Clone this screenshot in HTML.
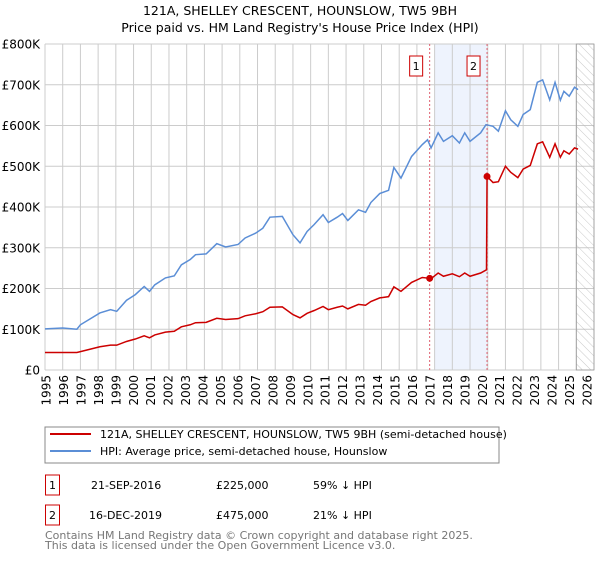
<!DOCTYPE html>
<html><head><meta charset="utf-8"><style>
body{margin:0;background:#fff;font-family:"Liberation Sans","DejaVu Sans",sans-serif;}
svg text{font-family:"DejaVu Sans","Liberation Sans",sans-serif;}
</style></head><body>
<svg id="c" width="600" height="560" xmlns="http://www.w3.org/2000/svg">
<defs><pattern id="hatch" width="6" height="6" patternUnits="userSpaceOnUse" patternTransform="rotate(-45)"><line x1="0" y1="0" x2="0" y2="6" stroke="#bbb" stroke-width="0.8"/></pattern></defs>
<text x="300" y="15" text-anchor="middle" font-size="12.5">121A, SHELLEY CRESCENT, HOUNSLOW, TW5 9BH</text>
<text x="300" y="32" text-anchor="middle" font-size="12.5">Price paid vs. HM Land Registry's House Price Index (HPI)</text>
<g id="grid"></g><g id="marks"></g>
<rect x="45" y="427" width="454" height="36" fill="#fff" stroke="#888"/>
<line x1="50" y1="434" x2="91" y2="434" stroke="#cc0000" stroke-width="2"/>
<text x="100" y="438" font-size="11">121A, SHELLEY CRESCENT, HOUNSLOW, TW5 9BH (semi-detached house)</text>
<line x1="50" y1="451" x2="91" y2="451" stroke="#5b8ed6" stroke-width="2"/>
<text x="100" y="455" font-size="11">HPI: Average price, semi-detached house, Hounslow</text>
<rect x="45.5" y="475" width="14" height="20" fill="#fff" stroke="#cc0000"/>
<text x="52.5" y="489" text-anchor="middle" font-size="11">1</text>
<text x="91" y="489" font-size="11">21-SEP-2016</text>
<text x="216" y="489" font-size="11">£225,000</text>
<text x="313" y="489" font-size="11">59% ↓ HPI</text>
<rect x="45.5" y="505" width="14" height="20" fill="#fff" stroke="#cc0000"/>
<text x="52.5" y="519" text-anchor="middle" font-size="11">2</text>
<text x="89" y="519" font-size="11">16-DEC-2019</text>
<text x="216" y="519" font-size="11">£475,000</text>
<text x="313" y="519" font-size="11">21% ↓ HPI</text>
<text x="45" y="539" font-size="11" fill="#777">Contains HM Land Registry data © Crown copyright and database right 2025.</text>
<text x="45" y="549" font-size="11" fill="#777">This data is licensed under the Open Government Licence v3.0.</text>
</svg>
<script>
const yTicks=[0,100,200,300,400,500,600,700,800];
const yTickLabels=["£0","£100K","£200K","£300K","£400K","£500K","£600K","£700K","£800K"];
const xYears=[1995,1996,1997,1998,1999,2000,2001,2002,2003,2004,2005,2006,2007,2008,2009,2010,2011,2012,2013,2014,2015,2016,2017,2018,2019,2020,2021,2022,2023,2024,2025,2026];
const hpiYears=[1995.0,1996.0,1996.8,1997.0,1998.1,1998.7,1999.05,1999.6,2000.1,2000.6,2000.9,2001.2,2001.8,2002.3,2002.7,2003.2,2003.5,2004.1,2004.7,2005.2,2005.9,2006.3,2006.9,2007.3,2007.7,2008.4,2009.0,2009.4,2009.8,2010.2,2010.7,2011.0,2011.5,2011.8,2012.1,2012.7,2013.1,2013.4,2013.9,2014.4,2014.7,2015.1,2015.7,2016.3,2016.6,2016.8,2017.2,2017.5,2018.0,2018.4,2018.7,2019.0,2019.6,2019.9,2020.3,2020.6,2021.0,2021.3,2021.7,2022.0,2022.4,2022.8,2023.1,2023.5,2023.8,2024.1,2024.3,2024.6,2024.9,2025.1];
const hpiValues=[101,103,100,111,140,148,144,171,185,205,193,209,226,231,258,271,283,285,310,302,308,324,336,348,375,377,332,312,340,357,381,362,375,384,367,393,387,411,433,441,497,471,524,553,565,545,582,561,575,557,582,561,582,602,598,586,636,614,598,627,639,706,712,663,706,662,684,672,694,688];
const propYears=[1995.0,1996.0,1996.8,1997.0,1998.1,1998.7,1999.05,1999.6,2000.1,2000.6,2000.9,2001.2,2001.8,2002.3,2002.7,2003.2,2003.5,2004.1,2004.7,2005.2,2005.9,2006.3,2006.9,2007.3,2007.7,2008.4,2009.0,2009.4,2009.8,2010.2,2010.7,2011.0,2011.5,2011.8,2012.1,2012.7,2013.1,2013.4,2013.9,2014.4,2014.7,2015.1,2015.7,2016.3,2016.72,2016.8,2017.2,2017.5,2018.0,2018.4,2018.7,2019.0,2019.6,2019.93,2019.96,2020.3,2020.6,2021.0,2021.3,2021.7,2022.0,2022.4,2022.8,2023.1,2023.5,2023.8,2024.1,2024.3,2024.6,2024.9,2025.1];
const propValues=[43,43,43,45,57,61,61,70,76,84,79,86,93,95,106,111,116,117,127,124,126,133,138,143,154,155,136,128,139,146,156,148,154,157,150,161,159,168,177,180,204,193,215,227,225,224,238,230,236,229,238,230,238,246,475,460,462,500,485,472,493,502,555,560,522,555,522,538,530,545,542];
const saleYears=[2016.72,2019.96];
const saleValues=[225,475];
const saleLabels=["1","2"];
const NS="http://www.w3.org/2000/svg";
const X0=45,X1=594,Y0=370,Y1=44,Ymin=1995,Ymax=2026;
const xs=y=>X0+(y-Ymin)/(Ymax-Ymin)*(X1-X0);
const xl=y=>46+(y-Ymin)/(Ymax-Ymin)*541;
const ys=v=>Y0-v/800*(Y0-Y1);
function mk(t,a,p){const e=document.createElementNS(NS,t);for(const k in a)e.setAttribute(k,a[k]);p.appendChild(e);return e;}
const g=document.getElementById('grid'),m=document.getElementById('marks');
let r=mk('rect',{x:xs(2017),y:Y1,width:xs(saleYears[1])-xs(2017),height:Y0-Y1,fill:'#eef3fd'},g);


xYears.forEach(yr=>{const l=mk('line',{x1:xs(yr),x2:xs(yr),y1:Y1,y2:Y0,stroke:'#ccc','stroke-width':1},g);


const t=mk('text',{x:0,y:0,'font-size':12,'text-anchor':'end',transform:`translate(${xl(yr)+4.5},${Y0+5}) rotate(-90)`},g);t.textContent=yr;

});
yTicks.forEach((v,i)=>{const l=mk('line',{x1:X0,x2:X1,y1:ys(v),y2:ys(v),stroke:'#ccc','stroke-width':1},g);


const t=mk('text',{x:40,y:ys(v)+4.5,'font-size':12,'text-anchor':'end'},g);t.textContent=yTickLabels[i];

});
const h=mk('rect',{x:xs(2025.0),y:Y1,width:X1-xs(2025.0),height:Y0-Y1,fill:'url(#hatch)',stroke:'#999','stroke-width':0.8},g);


saleYears.forEach((yr,i)=>{const l=mk('line',{x1:xs(yr),x2:xs(yr),y1:Y1,y2:Y0,stroke:'#e06070','stroke-width':1,'stroke-dasharray':'2,2'},g);


const b=mk('rect',{x:xs(yr)-20,y:56,width:13,height:20,fill:'#fff',stroke:'#cc0000'},g);


const t=mk('text',{x:xs(yr)-13.5,y:70,'font-size':11,'text-anchor':'middle'},g);t.textContent=saleLabels[i];

});
const hp=mk('polyline',{points:hpiYears.map((y,i)=>xs(y)+','+ys(hpiValues[i])).join(' '),fill:'none',stroke:'#5b8ed6','stroke-width':1.5},m);


const pp=mk('polyline',{points:propYears.map((y,i)=>xs(y)+','+ys(propValues[i])).join(' '),fill:'none',stroke:'#cc0000','stroke-width':1.5},m);


saleYears.forEach((yr,i)=>{const c=mk('circle',{cx:xs(yr),cy:ys(saleValues[i]),r:3.5,fill:'#cc0000'},m);

});
</script>
</body></html>
